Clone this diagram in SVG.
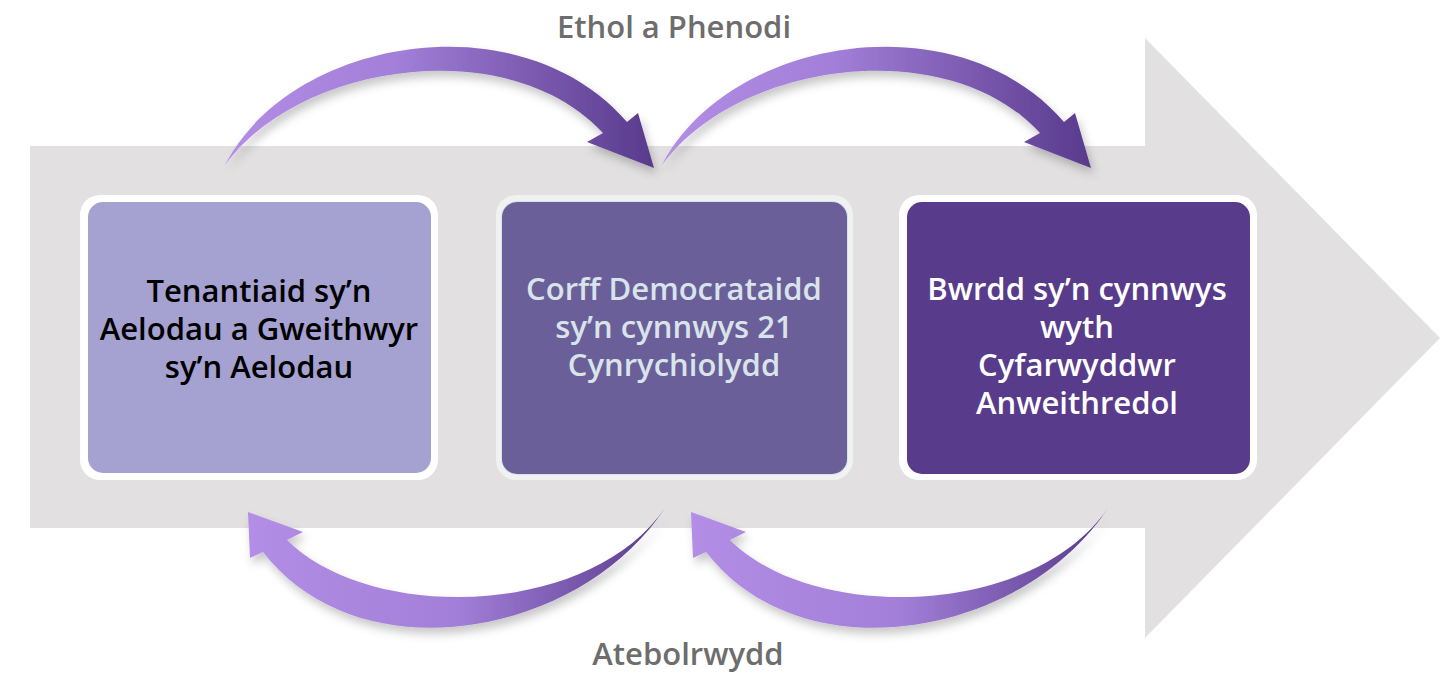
<svg xmlns="http://www.w3.org/2000/svg" width="1449" height="677" viewBox="0 0 1449 677">
<style>
.t{font-family:"Open Sans",Lato,"Liberation Sans",sans-serif;font-weight:600;font-size:31px;text-anchor:middle}
.lbl{font-family:"Open Sans",Lato,"Liberation Sans",sans-serif;font-weight:600;font-size:31px;text-anchor:middle;fill:#6D6D6D}
</style>
<defs>
<linearGradient id="g" x1="0" y1="0" x2="1" y2="0">
<stop offset="0" stop-color="#B38DE6"/>
<stop offset="0.4" stop-color="#A27FD8"/>
<stop offset="1" stop-color="#583A8C"/>
</linearGradient>
<linearGradient id="gb" x1="0" y1="0" x2="1" y2="0">
<stop offset="0" stop-color="#B38DE6"/>
<stop offset="0.5" stop-color="#A27FD8"/>
<stop offset="1" stop-color="#583A8C"/>
</linearGradient>
<filter id="sh" x="-20%" y="-30%" width="140%" height="160%">
<feDropShadow dx="3" dy="6" stdDeviation="5" flood-color="#000" flood-opacity="0.22"/>
</filter>
</defs>
<rect width="1449" height="677" fill="#FFFFFF"/>
<g id="band">
<path d="M30,146 H1145 V38 L1440,338 L1145,638 V528 H30 Z" fill="#E2E0E1"/>
</g>
<g id="connectors">
<path id="arrow-top-1" filter="url(#sh)" fill="url(#g)" d="M225,165 C290,38 520,-2 627,122 L638,113 L654,168 L587,142 L603,133 C510,32 300,62 225,165 Z"/>
<path id="arrow-top-2" filter="url(#sh)" fill="url(#g)" transform="translate(437,0)" d="M225,165 C290,38 520,-2 627,122 L638,113 L654,168 L587,142 L603,133 C510,32 300,62 225,165 Z"/>
<path id="arrow-bot-1" filter="url(#sh)" fill="url(#gb)" d="M665,508 C580,637 360,677 263,552 L250,558 L248,512 L303,532 L287,540 C370,623 590,618 665,508 Z"/>
<path id="arrow-bot-2" filter="url(#sh)" fill="url(#gb)" transform="translate(443,0)" d="M665,508 C580,637 360,677 263,552 L250,558 L248,512 L303,532 L287,540 C370,623 590,618 665,508 Z"/>
</g>
<g id="node-tenants">
<rect x="80" y="195" width="358" height="285" rx="20" fill="#FFFFFF"/>
<rect x="88" y="202" width="343" height="271" rx="15" fill="#A5A1D0"/>
<text class="t" fill="#000000"><tspan x="259" y="302">Tenantiaid sy’n</tspan><tspan x="259" y="340">Aelodau a Gweithwyr</tspan><tspan x="259" y="378">sy’n Aelodau</tspan></text>
</g>
<g id="node-corff">
<rect x="496" y="195" width="357" height="285" rx="20" fill="#F0F1F1"/>
<rect x="501" y="201" width="347" height="274" rx="16" fill="#D6E4E8"/>
<rect x="502" y="202" width="345" height="272" rx="15" fill="#6A5F99"/>
<text class="t" fill="#D8E4EA"><tspan x="674" y="300">Corff Democrataidd</tspan><tspan x="674" y="338">sy’n cynnwys 21</tspan><tspan x="674" y="376">Cynrychiolydd</tspan></text>
</g>
<g id="node-bwrdd">
<rect x="899" y="195" width="358" height="285" rx="20" fill="#FFFFFF"/>
<rect x="907" y="202" width="343" height="272" rx="15" fill="#583B8B"/>
<text class="t" fill="#FFFFFF"><tspan x="1077" y="300">Bwrdd sy’n cynnwys</tspan><tspan x="1077" y="338">wyth</tspan><tspan x="1077" y="376">Cyfarwyddwr</tspan><tspan x="1077" y="414">Anweithredol</tspan></text>
</g>
<g id="labels">
<text class="lbl" x="674" y="38">Ethol a Phenodi</text>
<text class="lbl" x="688" y="665">Atebolrwydd</text>
</g>
</svg>
